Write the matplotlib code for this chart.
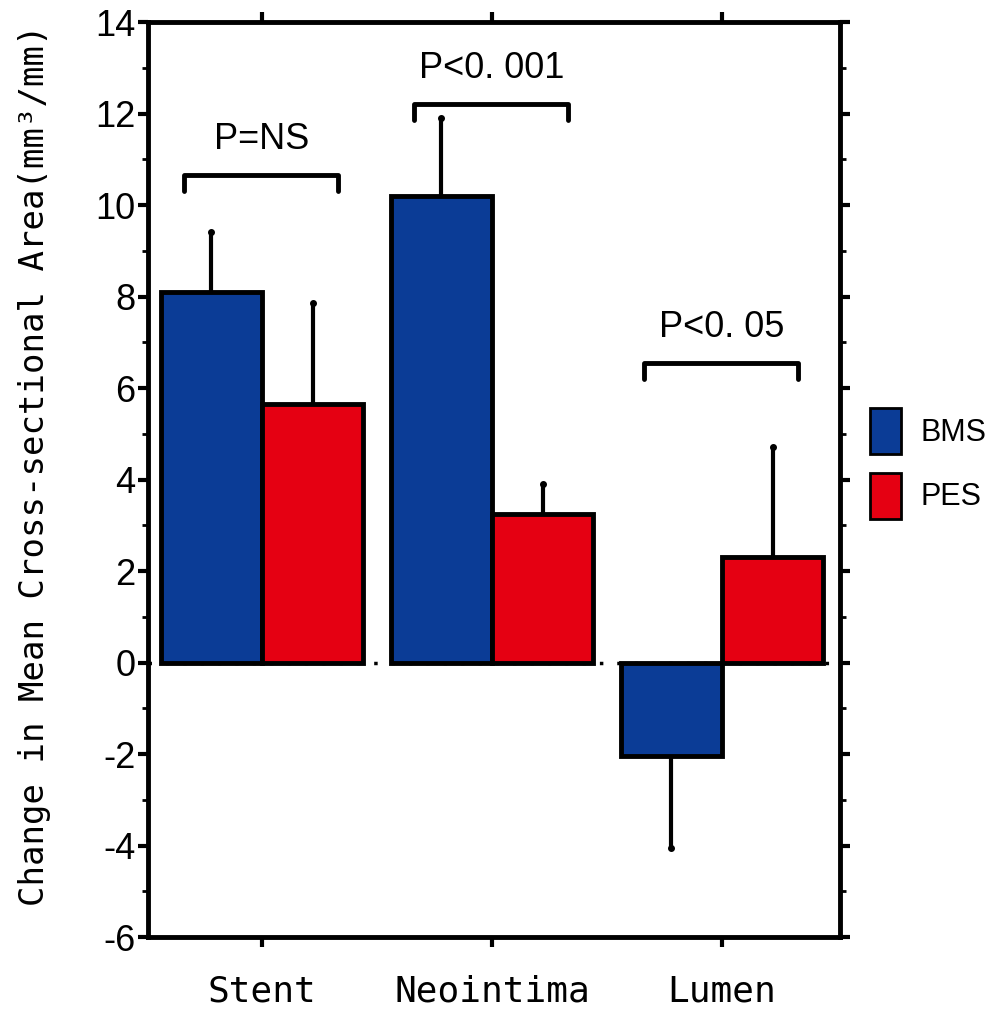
import matplotlib
matplotlib.use("Agg")
import matplotlib.pyplot as plt
from matplotlib.patches import Patch
import numpy as np

plt.rcParams['axes.unicode_minus'] = False

# values
categories = ["Stent", "Neointima", "Lumen"]
bms_mean = [8.1, 10.2, -2.05]
bms_err = [1.3, 1.7, 2.0]
pes_mean = [5.65, 3.25, 2.3]
pes_err = [2.2, 0.65, 2.4]
p_labels = ["P=NS", "P<0. 001", "P<0. 05"]
bracket_y = [10.65, 12.2, 6.55]

blue = "#0b3c96"
red = "#e50012"
narrow = ["Liberation Sans", "DejaVu Sans"]
mono = ["DejaVu Sans Mono"]

fig = plt.figure(figsize=(9.9, 10.14), dpi=100)
ax = fig.add_axes([0.1495, 0.0759, 0.699, 0.9024])

x = np.arange(len(categories))
w = 0.44

ax.axhline(0, color="black", lw=2.5, ls=(0, (1, 4)), zorder=1)

for i in range(len(categories)):
    for xpos, m, e, col in [(x[i] - w / 2, bms_mean[i], bms_err[i], blue),
                            (x[i] + w / 2, pes_mean[i], pes_err[i], red)]:
        ax.bar(xpos, m, width=w, color=col, edgecolor="black", linewidth=3.5, zorder=3)
        sgn = 1 if m >= 0 else -1
        ax.plot([xpos, xpos], [m, m + sgn * e], color="black", lw=3,
                solid_capstyle="round", zorder=2)
        ax.plot(xpos, m + sgn * e, "o", color="black", ms=4, zorder=2)

# significance brackets
for i in range(len(categories)):
    yb = bracket_y[i]
    ax.plot([x[i] - 0.34, x[i] - 0.34, x[i] + 0.33, x[i] + 0.33],
            [yb - 0.35, yb, yb, yb - 0.35], color="black", lw=3.5,
            solid_capstyle="round", solid_joinstyle="round")
    ax.text(x[i], yb + 0.4, p_labels[i], ha="center", va="bottom",
            fontsize=26, family=narrow)

ax.set_xlim(-0.496, 2.513)
ax.set_ylim(-6, 14)
ax.set_yticks(np.arange(-6, 15, 2))
ax.set_yticks(np.arange(-6, 15, 1), minor=True)
ax.set_xticks(x)
ax.set_xticklabels(categories, fontsize=26, family=mono)
for lab in ax.get_yticklabels():
    lab.set_fontsize(26)
    lab.set_family(narrow)

for s in ax.spines.values():
    s.set_linewidth(3.5)

ax.tick_params(axis="y", which="major", direction="out", length=7, width=3,
               left=True, right=True, pad=2)
ax.tick_params(axis="y", which="minor", direction="out", length=4, width=2,
               left=True, right=True)
ax.tick_params(axis="x", which="major", direction="out", length=7, width=3,
               top=True, bottom=True, pad=20)

ax.set_ylabel("Change in Mean Cross-sectional Area(mm³/mm)", fontsize=24.5,
              family=mono)
ax.yaxis.set_label_coords(-0.14, 0.516)

handles = [Patch(facecolor=blue, edgecolor="black", linewidth=2, label="BMS"),
           Patch(facecolor=red, edgecolor="black", linewidth=2, label="PES")]
leg = fig.legend(handles=handles, loc="upper left",
                 bbox_to_anchor=(870 / 990, 1 - 408 / 1014),
                 frameon=False, handlelength=1.0, handleheight=1.95,
                 handletextpad=0.65, labelspacing=0.6, borderpad=0,
                 borderaxespad=0, prop={"family": narrow, "size": 22})

fig.savefig("out.png", dpi=100)
